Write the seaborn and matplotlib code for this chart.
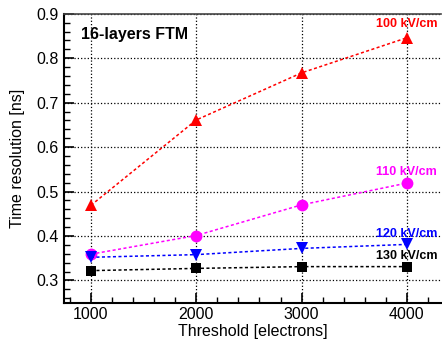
import pandas as pd
import seaborn as sns
import matplotlib.pyplot as plt
from matplotlib.ticker import MultipleLocator

thresholds = [1000, 2000, 3000, 4000]
res_100 = [0.469, 0.661, 0.767, 0.846]
res_110 = [0.359, 0.401, 0.470, 0.519]
res_120 = [0.352, 0.358, 0.372, 0.381]
res_130 = [0.322, 0.327, 0.331, 0.331]
fields = ["100 kV/cm", "110 kV/cm", "120 kV/cm", "130 kV/cm"]
colors = ["#ff0000", "#ff00ff", "#0000ff", "#000000"]
markers = ["^", "o", "v", "s"]
msizes = [9, 8.5, 8.5, 6.5]

df = pd.DataFrame({
    "Threshold": thresholds * 4,
    "Resolution": res_100 + res_110 + res_120 + res_130,
    "Field": [f for f in fields for _ in thresholds],
})

sns.set_theme(style="ticks", rc={"text.color": "black", "axes.labelcolor": "black",
                                 "xtick.color": "black", "ytick.color": "black",
                                 "axes.edgecolor": "black"})
plt.rcParams["font.family"] = ["Liberation Sans", "DejaVu Sans"]

fig = plt.figure(figsize=(4.42, 3.44), dpi=100)
ax = fig.add_axes([0.145, 0.119, 0.853, 0.841])

sns.lineplot(data=df, x="Threshold", y="Resolution", hue="Field", style="Field",
             palette=dict(zip(fields, colors)),
             markers=dict(zip(fields, markers)),
             dashes={f: (2, 1.6) for f in fields},
             markersize=8, markeredgewidth=0, linewidth=1.1,
             legend=False, ax=ax)
for line, ms in zip(ax.lines, msizes):
    line.set_markersize(ms)

ax.set_xlim(745, 4325)
ax.set_ylim(0.249, 0.9)
ax.xaxis.set_major_locator(MultipleLocator(1000))
ax.xaxis.set_minor_locator(MultipleLocator(200))
ax.yaxis.set_major_locator(MultipleLocator(0.1))
ax.yaxis.set_minor_locator(MultipleLocator(0.02))
ax.tick_params(which="major", direction="in", length=7, width=1.2,
               labelsize=11.5, top=False, right=False)
ax.tick_params(axis="x", which="major", pad=3)
ax.tick_params(axis="y", which="major", pad=4)
ax.tick_params(which="minor", direction="in", length=4, width=1.0)
ax.grid(True, which="major", linestyle=":", color="black", linewidth=0.9)

for s in ["left", "bottom"]:
    ax.spines[s].set_linewidth(1.5)
ax.spines["top"].set_color("#444444")
ax.spines["top"].set_linewidth(1.2)
ax.spines["right"].set_visible(False)

ax.set_xlabel("Threshold [electrons]", fontsize=11.5, labelpad=1)
ax.set_ylabel("Time resolution [ns]", fontsize=11.5, labelpad=8)

ax.text(0.045, 0.955, "16-layers FTM", transform=ax.transAxes,
        fontsize=11.5, fontweight="bold", va="top", ha="left")
label_y = [0.876, 0.543, 0.404, 0.356]
for f, c, ly in zip(fields, colors, label_y):
    ax.text(3710, ly, f, color=c, fontsize=9, fontweight="bold",
            ha="left", va="center")

fig.savefig("out.png", dpi=100)
